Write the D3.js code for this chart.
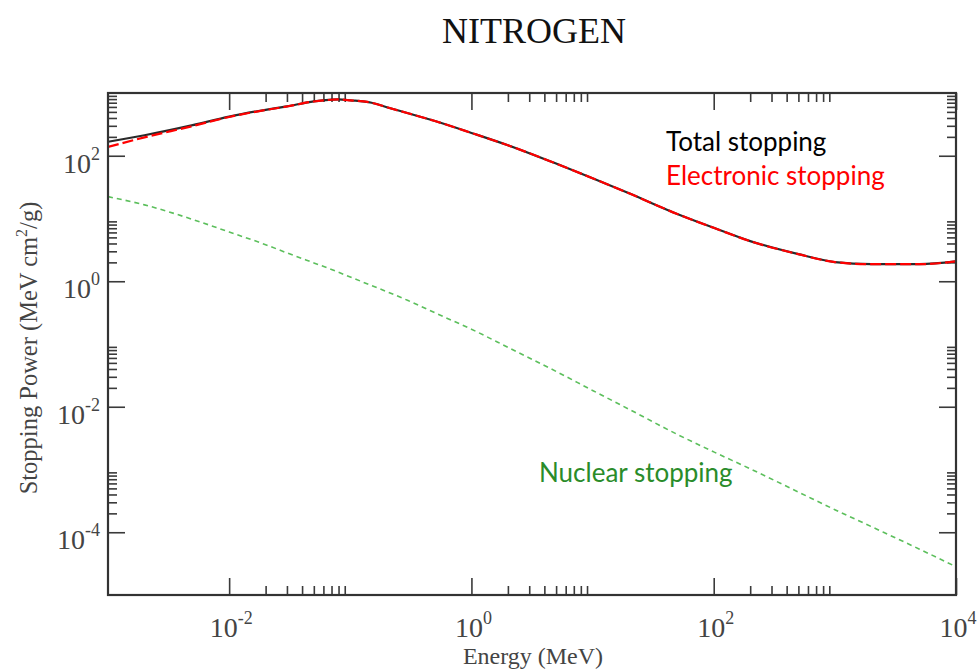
<!DOCTYPE html>
<html>
<head>
<meta charset="utf-8">
<script src="https://cdn.jsdelivr.net/npm/d3@7"></script>
<style>
  html, body { margin: 0; padding: 0; background: #fff; }
  svg { display: block; }
</style>
</head>
<body>
<svg id="chart" width="978" height="671"></svg>
<script>
// ---- data ----
const energy = [1e-3, 2e-3, 5e-3, 1e-2, 2e-2, 3e-2, 5e-2, 7e-2, 8e-2, 1e-1, 1.5e-1, 2e-1, 3e-1, 5e-1, 1, 2, 5, 10, 20, 50, 100, 200, 500, 1000, 2000, 5000, 1e4];
const totalStopping = [167, 212, 307, 421, 540, 612, 735, 782, 790, 765, 700, 594, 476, 357, 231, 147, 75, 43.8, 25.2, 11.8, 7.1, 4.36, 2.70, 2.02, 1.87, 1.87, 2.07];
const electronicStopping = [138, 196, 297, 415, 536, 609, 733, 780, 789, 764, 699, 593, 475, 357, 231, 147, 75, 43.8, 25.2, 11.8, 7.1, 4.36, 2.70, 2.02, 1.87, 1.87, 2.07];
const nuclearStopping = [22.3, 16.5, 9.66, 6.1, 3.83, 2.83, 1.96, 1.54, 1.39, 1.17, 0.853, 0.684, 0.492, 0.314, 0.172, 0.0887, 0.0366, 0.0182, 0.00912, 0.00363, 0.00191, 0.001026, 4.37e-4, 2.29e-4, 1.23e-4, 5.37e-5, 2.82e-5];

const xMajorTicks = [1e-2, 1e0, 1e2, 1e4];
const xMajorExp = ["-2", "0", "2", "4"];
const yMajorTicks = [1e-4, 1e-2, 1e0, 1e2];
const yMajorExp = ["-4", "-2", "0", "2"];
const minorMultipliers = [2, 3, 4, 5, 6, 7, 8, 9];

const titleText = "NITROGEN";
const xLabel = "Energy (MeV)";
const legendLabels = ["Total stopping", "Electronic stopping", "Nuclear stopping"];

// ---- layout ----
const svg = d3.select("#chart");
const L = 108, R = 956, T = 93, B = 595;

const x = d3.scaleLog().domain([1e-3, 1e4]).range([L, R]);
const y = d3.scaleLog().domain([1e-5, 1e3]).range([B, T]);

function minorOf(majors) {
  const out = [];
  majors.forEach(m => minorMultipliers.forEach(k => out.push(m * k)));
  return out;
}
const xMinor = minorOf([1e-2, 1e0, 1e2]);
const yMinor = minorOf([1e-4, 1e-2, 1e0, 1e2]);

const tickColor = "#3a3a3a";
const MAJ = 17, MIN = 9;

function styleAxis(g) {
  g.select(".domain").remove();
  g.selectAll(".tick line").attr("stroke", tickColor).attr("stroke-width", 1.6);
  g.selectAll(".tick text").remove();
}

// bottom / top
svg.append("g").attr("transform", `translate(0,${B})`)
  .call(d3.axisBottom(x).tickValues(xMajorTicks).tickSize(-MAJ).tickFormat("")).call(styleAxis);
svg.append("g").attr("transform", `translate(0,${B})`)
  .call(d3.axisBottom(x).tickValues(xMinor).tickSize(-MIN).tickFormat("")).call(styleAxis);
svg.append("g").attr("transform", `translate(0,${T})`)
  .call(d3.axisTop(x).tickValues(xMajorTicks).tickSize(-MAJ).tickFormat("")).call(styleAxis);
svg.append("g").attr("transform", `translate(0,${T})`)
  .call(d3.axisTop(x).tickValues(xMinor).tickSize(-MIN).tickFormat("")).call(styleAxis);
// left / right
svg.append("g").attr("transform", `translate(${L},0)`)
  .call(d3.axisLeft(y).tickValues(yMajorTicks).tickSize(-MAJ).tickFormat("")).call(styleAxis);
svg.append("g").attr("transform", `translate(${L},0)`)
  .call(d3.axisLeft(y).tickValues(yMinor).tickSize(-MIN).tickFormat("")).call(styleAxis);
svg.append("g").attr("transform", `translate(${R},0)`)
  .call(d3.axisRight(y).tickValues(yMajorTicks).tickSize(-MAJ).tickFormat("")).call(styleAxis);
svg.append("g").attr("transform", `translate(${R},0)`)
  .call(d3.axisRight(y).tickValues(yMinor).tickSize(-MIN).tickFormat("")).call(styleAxis);

// clip for curves
svg.append("defs").append("clipPath").attr("id", "plotclip")
  .append("rect").attr("x", L).attr("y", T).attr("width", R - L).attr("height", B - T);

const lineGen = d3.line().x(d => x(d[0])).y(d => y(d[1])).curve(d3.curveMonotoneX);
const plot = svg.append("g").attr("clip-path", "url(#plotclip)");

plot.append("path").datum(energy.map((e, i) => [e, nuclearStopping[i]]))
  .attr("d", lineGen).attr("fill", "none").attr("stroke", "#5cbf5c")
  .attr("stroke-width", 1.6).attr("stroke-dasharray", "5,4");
plot.append("path").datum(energy.map((e, i) => [e, totalStopping[i]]))
  .attr("d", lineGen).attr("fill", "none").attr("stroke", "#2a2a2a")
  .attr("stroke-width", 2.2);
plot.append("path").datum(energy.map((e, i) => [e, electronicStopping[i]]))
  .attr("d", lineGen).attr("fill", "none").attr("stroke", "#ff0000")
  .attr("stroke-width", 2.2).attr("stroke-dasharray", "11,4");

// frame
svg.append("rect").attr("x", L).attr("y", T).attr("width", R - L).attr("height", B - T)
  .attr("fill", "none").attr("stroke", "#333").attr("stroke-width", 2.2);

// tick labels
const labFont = "'Liberation Serif','Times New Roman',serif";
const labColor = "#444";
const xl = svg.append("g").selectAll("text").data(xMajorTicks).join("text")
  .attr("x", d => x(d) + 2).attr("y", 637)
  .attr("text-anchor", "middle").attr("font-family", labFont).attr("fill", labColor);
xl.append("tspan").attr("font-size", 28).text("10");
xl.append("tspan").attr("font-size", 18).attr("dy", -13).text((d, i) => xMajorExp[i]);

const yl = svg.append("g").selectAll("text").data(yMajorTicks).join("text")
  .attr("x", 100).attr("y", d => y(d) + 17)
  .attr("text-anchor", "end").attr("font-family", labFont).attr("fill", labColor);
yl.append("tspan").attr("font-size", 28).text("10");
yl.append("tspan").attr("font-size", 18).attr("dy", -13).text((d, i) => yMajorExp[i]);

// title
svg.append("text").attr("x", 534).attr("y", 43).attr("text-anchor", "middle")
  .attr("font-family", labFont).attr("font-size", 36).attr("fill", "#111").text(titleText);

// axis labels
svg.append("text").attr("x", 533).attr("y", 664).attr("text-anchor", "middle")
  .attr("font-family", labFont).attr("font-size", 24).attr("fill", "#444").text(xLabel);

const yt = svg.append("text").attr("transform", "translate(37,348) rotate(-90)")
  .attr("text-anchor", "middle").attr("font-family", labFont).attr("font-size", 24.5).attr("fill", "#444");
yt.append("tspan").text("Stopping Power (MeV cm");
yt.append("tspan").attr("font-size", 16).attr("dy", -10).text("2");
yt.append("tspan").attr("dy", 10).text("/g)");

// legend labels
const legFont = "Lato, 'Open Sans', sans-serif";
const legendPos = [[666, 151, "#000000"], [666, 185, "#ff0000"], [539, 482, "#2a8c2a"]];
svg.append("g").selectAll("text").data(legendLabels).join("text")
  .attr("x", (d, i) => legendPos[i][0]).attr("y", (d, i) => legendPos[i][1])
  .attr("fill", (d, i) => legendPos[i][2])
  .attr("font-family", legFont).attr("font-size", 26).text(d => d);
</script>
</body>
</html>
